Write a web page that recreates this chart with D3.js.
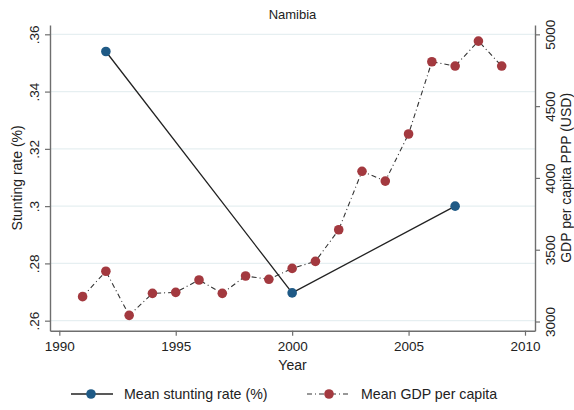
<!DOCTYPE html>
<html>
<head>
<meta charset="utf-8">
<script src="https://cdn.jsdelivr.net/npm/d3@7"></script>
<style>
body{margin:0;background:#fff;}
text{font-family:"Liberation Sans",Arial,Helvetica,sans-serif;}
</style>
</head>
<body>
<svg id="chart" width="574" height="410"></svg>
<script>
const title = "Namibia";
const stuntYears = [1992, 2000, 2007];
const stuntValues = [0.354, 0.2697, 0.300];
const gdpYears = [1991,1992,1993,1994,1995,1996,1997,1998,1999,2000,2001,2002,2003,2004,2005,2006,2007,2008,2009];
const gdpValues = [3173,3350,3043,3196,3203,3289,3196,3317,3294,3370,3419,3639,4046,3978,4306,4809,4779,4953,4779];
const xTicks = [1990,1995,2000,2005,2010];
const leftTicks = [0.26,0.28,0.30,0.32,0.34,0.36];
const rightTicks = [3000,3500,4000,4500,5000];
const legendLabels = ["Mean stunting rate (%)", "Mean GDP per capita"];

const blue = "#1f5a86", red = "#a3393f", axisCol = "#6e6e6e", textCol = "#222";
const svg = d3.select("#chart");
const L = 50, R = 535, T = 25, B = 330.7;
const fs = 13.5;

const x = d3.scaleLinear().domain([1989.6, 2010.43]).range([L, R]);
const yL = d3.scaleLinear().domain([0.2565, 0.36325]).range([B, T]);
const yR = d3.scaleLinear().domain([2936, 5065]).range([B, T]);

// grid
svg.append("g").selectAll("line").data(leftTicks).join("line")
  .attr("x1", L).attr("x2", R).attr("y1", d => yL(d)).attr("y2", d => yL(d))
  .attr("stroke", "#e6eff1").attr("stroke-width", 1.2);

// title
svg.append("text").attr("x", (L+R)/2).attr("y", 19).attr("text-anchor","middle")
  .attr("font-size", 13).attr("fill", textCol).text(title);

const fmtL = d => d3.format(".2~f")(d).replace(/^0\./, ".");

function styleAxis(g){
  g.select(".domain").attr("stroke", axisCol).attr("stroke-width", 1.4);
  g.selectAll(".tick line").attr("stroke", axisCol).attr("stroke-width", 1.2);
  g.selectAll(".tick text").attr("fill", textCol).attr("font-size", fs)
   .attr("font-family", '"Liberation Sans",Arial,sans-serif');
}

// left axis
const gl = svg.append("g").attr("transform", `translate(${L},0)`)
  .call(d3.axisLeft(yL).tickValues(leftTicks).tickFormat(fmtL).tickSize(5).tickSizeOuter(0));
styleAxis(gl);
gl.selectAll(".tick text").attr("transform", "rotate(-90)").attr("text-anchor","middle")
  .attr("x", 0).attr("y", -11.5).attr("dy", 0);

// right axis
const gr = svg.append("g").attr("transform", `translate(${R},0)`)
  .call(d3.axisRight(yR).tickValues(rightTicks).tickFormat(d3.format("d")).tickSize(5).tickSizeOuter(0));
styleAxis(gr);
gr.selectAll(".tick text").attr("transform", "rotate(-90)").attr("text-anchor","middle")
  .attr("x", 0).attr("y", 20).attr("dy", 0);

// bottom axis
const gb = svg.append("g").attr("transform", `translate(0,${B})`)
  .call(d3.axisBottom(x).tickValues(xTicks).tickFormat(d3.format("d")).tickSize(5).tickSizeOuter(0));
styleAxis(gb);
gb.selectAll(".tick text").attr("y", 11);

// axis titles
svg.append("text").attr("transform", `translate(22,${(T+B)/2}) rotate(-90)`)
  .attr("text-anchor","middle").attr("font-size", 14).attr("fill", textCol).text("Stunting rate (%)");
svg.append("text").attr("transform", `translate(571,${(T+B)/2}) rotate(-90)`)
  .attr("text-anchor","middle").attr("font-size", 14).attr("fill", textCol).text("GDP per capita PPP (USD)");
svg.append("text").attr("x", (L+R)/2).attr("y", 370).attr("text-anchor","middle")
  .attr("font-size", 14).attr("fill", textCol).text("Year");

// GDP line
const gdpData = gdpYears.map((yr,i) => [yr, gdpValues[i]]);
svg.append("path").datum(gdpData)
  .attr("d", d3.line().x(d => x(d[0])).y(d => yR(d[1])))
  .attr("fill","none").attr("stroke","#333").attr("stroke-width",1.1)
  .attr("stroke-dasharray","5,3,1,3");
svg.append("g").selectAll("circle").data(gdpData).join("circle")
  .attr("cx", d => x(d[0])).attr("cy", d => yR(d[1])).attr("r", 4.8).attr("fill", red);

// stunting line
const stData = stuntYears.map((yr,i) => [yr, stuntValues[i]]);
svg.append("path").datum(stData)
  .attr("d", d3.line().x(d => x(d[0])).y(d => yL(d[1])))
  .attr("fill","none").attr("stroke","#222").attr("stroke-width",1.3);
svg.append("g").selectAll("circle").data(stData).join("circle")
  .attr("cx", d => x(d[0])).attr("cy", d => yL(d[1])).attr("r", 4.8).attr("fill", blue);

// legend
const ly = 394;
const lg = svg.append("g");
lg.append("line").attr("x1",71).attr("x2",113).attr("y1",ly).attr("y2",ly).attr("stroke","#222").attr("stroke-width",1.3);
lg.append("circle").attr("cx",91).attr("cy",ly).attr("r",4.8).attr("fill",blue);
lg.append("text").attr("x",124).attr("y",ly+5).attr("font-size",14.2).attr("fill",textCol).text(legendLabels[0]);
lg.append("line").attr("x1",307).attr("x2",350).attr("y1",ly).attr("y2",ly).attr("stroke","#333").attr("stroke-width",1.1).attr("stroke-dasharray","5,3,1,3");
lg.append("circle").attr("cx",329).attr("cy",ly).attr("r",4.8).attr("fill",red);
lg.append("text").attr("x",361).attr("y",ly+5).attr("font-size",14.2).attr("fill",textCol).text(legendLabels[1]);
</script>
</body>
</html>
